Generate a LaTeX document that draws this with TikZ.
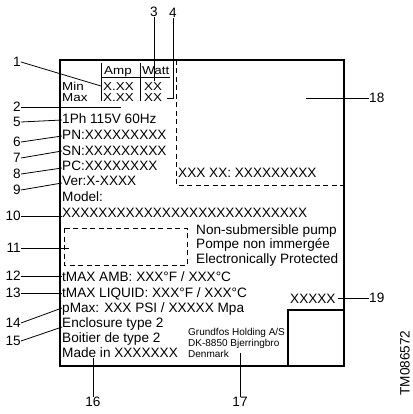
\documentclass[tikz,border=0pt]{standalone}
\usepackage{fontspec}
\setmainfont{Liberation Sans}
\begin{document}
\begin{tikzpicture}[x=1pt,y=-1pt,
  txt/.style={inner sep=0pt,anchor=base west,font=\fontsize{13.6}{15}\selectfont},
  tab/.style={inner sep=0pt,anchor=base west,font=\fontsize{13.4}{14}\selectfont},
  small/.style={inner sep=0pt,anchor=base west,font=\fontsize{10}{11}\selectfont},
  num/.style={inner sep=0pt,font=\fontsize{13.6}{15}\selectfont},
  lead/.style={line width=0.8pt},
  frame/.style={line width=1.1pt},
  dsh/.style={line width=0.9pt,dash pattern=on 5pt off 3.5pt}]
\newcommand{\sq}[1]{\scalebox{1}[0.86]{#1}}
\useasboundingbox (0,0) rectangle (412,414);
% frame
\draw[frame] (60,60) rectangle (344,366);
% right dashed area
\draw[dsh] (176,60) -- (176,185) -- (344,185);
% bottom right box
\draw[frame] (288,366) -- (288,310) -- (344,310);
% dashed box
\draw[dsh] (64,228) rectangle (187,265);
% table
\draw[lead] (101,63) -- (101,101);
\draw[lead] (140,63) -- (140,101);
\draw[lead] (101,77) -- (170,77);
\node[tab] (amp) at (104,75) {\sq{Amp}};
\node[tab] (watt) at (142,75) {\sq{Watt}};
\node[tab] (min) at (62,90.5) {\sq{Min}};
\node[tab] (max) at (62,101.5) {\sq{Max}};
\node[tab] (a1) at (103,90.5) {\sq{X.XX}};
\node[tab] (a2) at (103,101.5) {\sq{X.XX}};
\node[tab] (w1) at (144,90.5) {\sq{XX}};
\node[tab] (w2) at (144,101.5) {\sq{XX}};
% text lines
\node[txt] (t5) at (62,124) {1Ph 115V 60Hz};
\node[txt] (t6) at (62,139.5) {PN:XXXXXXXXX};
\node[txt] (t7) at (62,155) {SN:XXXXXXXXX};
\node[txt] (t8) at (62,170) {PC:XXXXXXXX};
\node[txt] (t9) at (62,185) {Ver:X-XXXX};
\node[txt] (t18) at (178,177) {XXX XX: XXXXXXXXX};
\node[txt] (tm) at (62,201) {Model:};
\node[txt] (t10) at (62,217) {XXXXXXXXXXXXXXXXXXXXXXXXXXX};
\node[txt] (n1) at (196,234) {Non-submersible pump};
\node[txt] (n2) at (196,248.5) {Pompe non immergée};
\node[txt] (n3) at (196,263) {Electronically Protected};
\node[txt] (t12) at (62,281) {tMAX AMB: XXX°F / XXX°C};
\node[txt] (t13) at (62,297) {tMAX LIQUID: XXX°F / XXX°C};
\node[txt] (t14) at (62,312) {pMax: XXX PSI / XXXXX Mpa};
\node[txt] (t15) at (62,327) {Enclosure type 2};
\node[txt] (t15b) at (62,342) {Boitier de type 2};
\node[txt] (t16) at (62,357) {Made in XXXXXXX};
\node[small] (g1) at (188,335) {Grundfos Holding A/S};
\node[small] (g2) at (188,346) {DK-8850 Bjerringbro};
\node[small] (g3) at (188,357) {Denmark};
\node[txt] (t19) at (290,303) {XXXXX};
% number labels
\node[num,anchor=east] (l1) at (21,62) {1};
\node[num,anchor=east] (l2) at (21,107) {2};
\node[num] (l3) at (154,12) {3};
\node[num] (l4) at (173,13) {4};
\node[num,anchor=east] (l5) at (21,122) {5};
\node[num,anchor=east] (l6) at (21,142) {6};
\node[num,anchor=east] (l7) at (21,158) {7};
\node[num,anchor=east] (l8) at (21,174) {8};
\node[num,anchor=east] (l9) at (21,190) {9};
\node[num,anchor=east] (l10) at (21,216) {10};
\node[num,anchor=east] (l11) at (21,248) {11};
\node[num,anchor=east] (l12) at (21,276) {12};
\node[num,anchor=east] (l13) at (21,293) {13};
\node[num,anchor=east] (l14) at (21,323) {14};
\node[num,anchor=east] (l15) at (21,341) {15};
\node[num] (l16) at (93,402) {16};
\node[num] (l17) at (240,402) {17};
\node[num,anchor=west] (l18) at (369,98) {18};
\node[num,anchor=west] (l19) at (369,298) {19};
\node[num,rotate=90] (tmc) at (405,363) {TM086572};
% end coordinates
\coordinate (e1) at (101,86);
\coordinate (e2) at (121,107);
\coordinate (e3) at (154,81);
\coordinate (e4a) at (173,98);
\coordinate (e4) at (167,98);
\coordinate (e5) at (62,120);
\coordinate (e6) at (62,136);
\coordinate (e7) at (62,151);
\coordinate (e8) at (62,168);
\coordinate (e9) at (62,183);
\coordinate (e10) at (62,216);
\coordinate (e11) at (69,248);
\coordinate (e12) at (62,276);
\coordinate (e13) at (62,293);
\coordinate (e14) at (62,308);
\coordinate (e15) at (62,327);
\coordinate (e16) at (93,358);
\coordinate (e17) at (240,353);
\coordinate (e18) at (306,98);
\coordinate (e19) at (338,298);
% leaders
\draw[lead] (l1.east) -- (e1);
\draw[lead] (l2.east) -- (e2);
\draw[lead] (l3.south) -- (e3);
\draw[lead] (l4.south) -- (e4a) -- (e4);
\draw[lead] (l5.east) -- (e5);
\draw[lead] (l6.east) -- (e6);
\draw[lead] (l7.east) -- (e7);
\draw[lead] (l8.east) -- (e8);
\draw[lead] (l9.east) -- (e9);
\draw[lead] (l10.east) -- (e10);
\draw[lead] (l11.east) -- (e11);
\draw[lead] (l12.east) -- (e12);
\draw[lead] (l13.east) -- (e13);
\draw[lead] (l14.east) -- (e14);
\draw[lead] (l15.east) -- (e15);
\draw[lead] (l16.north) -- (e16);
\draw[lead] (l17.north) -- (e17);
\draw[lead] (l18.west) -- (e18);
\draw[lead] (l19.west) -- (e19);
\end{tikzpicture}
\end{document}
